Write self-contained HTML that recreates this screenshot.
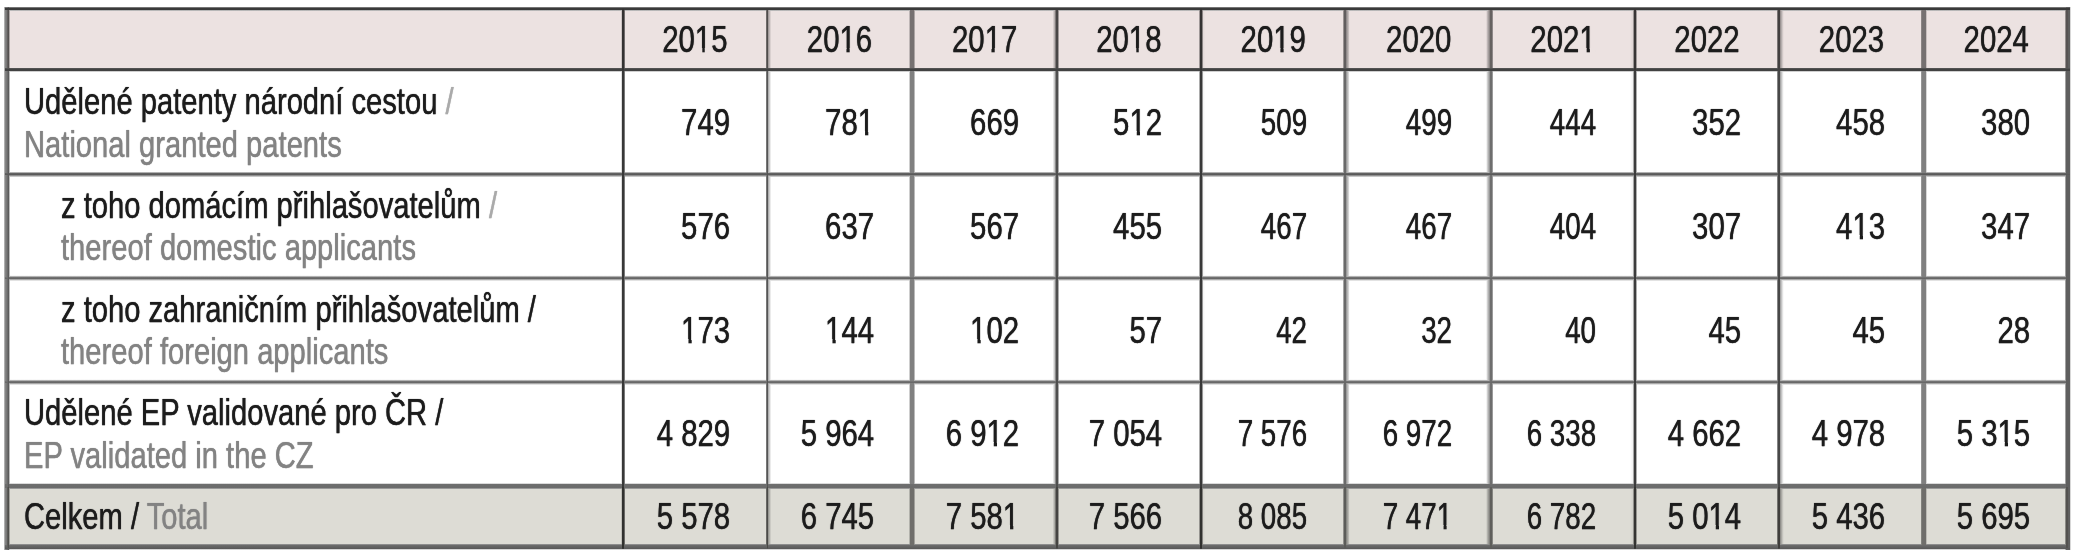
<!DOCTYPE html>
<html><head><meta charset="utf-8"><style>
html,body{margin:0;padding:0;background:#fff;width:2078px;height:556px;overflow:hidden}
body{position:relative;font-family:"Liberation Sans",sans-serif;font-size:36px;line-height:36px}
body>div{position:absolute;white-space:nowrap}
.ln{mix-blend-mode:multiply}
.lh{mix-blend-mode:darken}
.t{-webkit-text-stroke:0.25px currentColor;text-shadow:0 0 1px currentColor;--bg:#fff}
b.o{font-weight:normal;position:relative}
b.o::before,b.o::after{content:'';position:absolute;top:0.81em;height:0.17em;background:var(--bg)}
b.o::before{left:0.0em;width:0.242em}
b.o::after{left:0.348em;width:0.212em}
</style></head><body>
<div style="left:6.9px;top:8.9px;width:2061.6px;height:61.199999999999996px;background:#ece2e1"></div>
<div style="left:6.9px;top:486.5px;width:2061.6px;height:61.0px;background:#dddcd5"></div>
<div class="ln" style="left:3px;top:7px;width:7px;height:543px;background:linear-gradient(90deg, rgb(255,255,255) 0.8px, rgb(140,140,140) 1.8px, rgb(115,115,115) 4.0px, rgb(85,85,85) 5.9px, rgb(255,255,255) 6.9px)"></div>
<div class="ln" style="left:621px;top:8px;width:5px;height:541px;background:linear-gradient(90deg, rgb(255,255,255) 0.3px, rgb(56,56,56) 1.5px, rgb(56,56,56) 3.1px, rgb(255,255,255) 4.3px)"></div>
<div class="ln" style="left:765px;top:8px;width:7px;height:541px;background:linear-gradient(90deg, rgb(255,255,255) 0.7px, rgb(85,85,85) 1.7px, rgb(85,85,85) 2.97px, rgb(170,170,170) 3.3px, rgb(230,230,230) 5.3px, rgb(255,255,255) 6.3px)"></div>
<div class="ln" style="left:909px;top:8px;width:7px;height:541px;background:linear-gradient(90deg, rgb(255,255,255) 0.0px, rgb(128,128,128) 1.3px, rgb(128,128,128) 4.9px, rgb(255,255,255) 6.2px)"></div>
<div class="ln" style="left:1052px;top:8px;width:8px;height:541px;background:linear-gradient(90deg, rgb(255,255,255) 0.6px, rgb(205,205,205) 2.4px, rgb(90,90,90) 4.25px, rgb(79,79,79) 4.3px, rgb(79,79,79) 5.8px, rgb(255,255,255) 7.1px)"></div>
<div class="ln" style="left:1199px;top:8px;width:7px;height:541px;background:linear-gradient(90deg, rgb(255,255,255) 0.0px, rgb(56,56,56) 1.2px, rgb(56,56,56) 2.9px, rgb(245,245,245) 4.1px, rgb(255,255,255) 6.3px)"></div>
<div class="ln" style="left:1342px;top:8px;width:8px;height:541px;background:linear-gradient(90deg, rgb(255,255,255) 0.6px, rgb(106,106,106) 2.1px, rgb(106,106,106) 3.86px, rgb(150,150,150) 4.3px, rgb(220,220,220) 6.8px, rgb(255,255,255) 7.6px)"></div>
<div class="ln" style="left:1486px;top:8px;width:8px;height:541px;background:linear-gradient(90deg, rgb(255,255,255) 0.2px, rgb(220,220,220) 1.0px, rgb(150,150,150) 3.5px, rgb(110,110,110) 4.07px, rgb(110,110,110) 6.1px, rgb(255,255,255) 7.4px)"></div>
<div class="ln" style="left:1630px;top:8px;width:7px;height:541px;background:linear-gradient(90deg, rgb(255,255,255) 0.1px, rgb(240,240,240) 3.1px, rgb(60,60,60) 4.1px, rgb(60,60,60) 5.8px, rgb(255,255,255) 7.0px)"></div>
<div class="ln" style="left:1776px;top:8px;width:8px;height:541px;background:linear-gradient(90deg, rgb(255,255,255) 0.5px, rgb(72,72,72) 2.0px, rgb(72,72,72) 3.6px, rgb(160,160,160) 4.3px, rgb(235,235,235) 6.8px, rgb(255,255,255) 7.8px)"></div>
<div class="ln" style="left:1920px;top:8px;width:7px;height:541px;background:linear-gradient(90deg, rgb(255,255,255) 0.5px, rgb(128,128,128) 1.7px, rgb(128,128,128) 5.6px, rgb(255,255,255) 6.9px)"></div>
<div class="ln" style="left:2064px;top:7px;width:7px;height:543px;background:linear-gradient(90deg, rgb(255,255,255) 0.8px, rgb(95,95,95) 2.0px, rgb(95,95,95) 5.6px, rgb(255,255,255) 6.8px)"></div>
<div class="lh" style="left:5px;top:6px;width:2065px;height:5px;background:linear-gradient(180deg, rgb(255,255,255) 0.8px, rgb(58,58,58) 1.8px, rgb(58,58,58) 3.8px, rgb(255,255,255) 4.9px)"></div>
<div class="lh" style="left:5px;top:67px;width:2065px;height:5px;background:linear-gradient(180deg, rgb(255,255,255) 0.4px, rgb(66,66,66) 1.6px, rgb(66,66,66) 3.6px, rgb(255,255,255) 4.8px)"></div>
<div class="lh" style="left:5px;top:171px;width:2065px;height:7px;background:linear-gradient(180deg, rgb(255,255,255) 0.6px, rgb(100,100,100) 2.4px, rgb(90,90,90) 3.0px, rgb(90,90,90) 3.62px, rgb(150,150,150) 4.6px, rgb(255,255,255) 6.5px)"></div>
<div class="lh" style="left:5px;top:275px;width:2065px;height:6px;background:linear-gradient(180deg, rgb(255,255,255) 0.4px, rgb(130,130,130) 2.2px, rgb(95,95,95) 2.81px, rgb(95,95,95) 3.41px, rgb(140,140,140) 4.0px, rgb(255,255,255) 6.0px)"></div>
<div class="lh" style="left:5px;top:379px;width:2065px;height:6px;background:linear-gradient(180deg, rgb(255,255,255) 0.4px, rgb(130,130,130) 2.2px, rgb(98,98,98) 2.81px, rgb(98,98,98) 3.41px, rgb(140,140,140) 4.0px, rgb(255,255,255) 6.0px)"></div>
<div class="lh" style="left:5px;top:483px;width:2065px;height:7px;background:linear-gradient(180deg, rgb(255,255,255) 0.2px, rgb(110,110,110) 1.4px, rgb(107,107,107) 5.0px, rgb(255,255,255) 6.6px)"></div>
<div class="lh" style="left:5px;top:543px;width:2065px;height:7px;background:linear-gradient(180deg, rgb(255,255,255) 0.4px, rgb(110,110,110) 1.8px, rgb(90,90,90) 5.6px, rgb(255,255,255) 6.8px)"></div>
<div class="t" style="left:623.3px;width:143.70000000000005px;top:22.230000000000004px;text-align:center;color:#1c1c1c;transform:scaleX(0.815);transform-origin:50% 0;--bg:#ece2e1">20<b class="o">1</b>5</div>
<div class="t" style="left:767px;width:145px;top:22.230000000000004px;text-align:center;color:#1c1c1c;transform:scaleX(0.815);transform-origin:50% 0;--bg:#ece2e1">20<b class="o">1</b>6</div>
<div class="t" style="left:912px;width:145.29999999999995px;top:22.230000000000004px;text-align:center;color:#1c1c1c;transform:scaleX(0.815);transform-origin:50% 0;--bg:#ece2e1">20<b class="o">1</b>7</div>
<div class="t" style="left:1057.3px;width:143.70000000000005px;top:22.230000000000004px;text-align:center;color:#1c1c1c;transform:scaleX(0.815);transform-origin:50% 0;--bg:#ece2e1">20<b class="o">1</b>8</div>
<div class="t" style="left:1201px;width:144.5px;top:22.230000000000004px;text-align:center;color:#1c1c1c;transform:scaleX(0.815);transform-origin:50% 0;--bg:#ece2e1">20<b class="o">1</b>9</div>
<div class="t" style="left:1345.5px;width:145.5px;top:22.230000000000004px;text-align:center;color:#1c1c1c;transform:scaleX(0.815);transform-origin:50% 0;--bg:#ece2e1">2020</div>
<div class="t" style="left:1491px;width:144px;top:22.230000000000004px;text-align:center;color:#1c1c1c;transform:scaleX(0.815);transform-origin:50% 0;--bg:#ece2e1">202<b class="o">1</b></div>
<div class="t" style="left:1635px;width:144px;top:22.230000000000004px;text-align:center;color:#1c1c1c;transform:scaleX(0.815);transform-origin:50% 0;--bg:#ece2e1">2022</div>
<div class="t" style="left:1779px;width:145px;top:22.230000000000004px;text-align:center;color:#1c1c1c;transform:scaleX(0.815);transform-origin:50% 0;--bg:#ece2e1">2023</div>
<div class="t" style="left:1924px;width:144.5px;top:22.230000000000004px;text-align:center;color:#1c1c1c;transform:scaleX(0.815);transform-origin:50% 0;--bg:#ece2e1">2024</div>
<div class="t" style="left:24.0px;top:84.03px;color:#1c1c1c;transform:scaleX(0.81);transform-origin:0 0">Udělené patenty národní cestou <span style="color:#aaaaaa">/</span></div>
<div class="t" style="left:24.0px;top:126.53px;color:#838383;transform:scaleX(0.81);transform-origin:0 0">National granted patents</div>
<div class="t" style="right:1348.0px;top:105.13px;color:#1c1c1c;transform:scaleX(0.815);transform-origin:100% 0">749</div>
<div class="t" style="right:1204.1999999999998px;top:105.13px;color:#1c1c1c;transform:scaleX(0.815);transform-origin:100% 0">78<b class="o">1</b></div>
<div class="t" style="right:1058.8px;top:105.13px;color:#1c1c1c;transform:scaleX(0.815);transform-origin:100% 0">669</div>
<div class="t" style="right:915.5999999999999px;top:105.13px;color:#1c1c1c;transform:scaleX(0.815);transform-origin:100% 0">5<b class="o">1</b>2</div>
<div class="t" style="right:770.8999999999999px;top:105.13px;color:#1c1c1c;transform:scaleX(0.7701749999999999);transform-origin:100% 0">509</div>
<div class="t" style="right:626.3999999999999px;top:105.13px;color:#1c1c1c;transform:scaleX(0.7701749999999999);transform-origin:100% 0">499</div>
<div class="t" style="right:482.0px;top:105.13px;color:#1c1c1c;transform:scaleX(0.7701749999999999);transform-origin:100% 0">444</div>
<div class="t" style="right:337.0px;top:105.13px;color:#1c1c1c;transform:scaleX(0.815);transform-origin:100% 0">352</div>
<div class="t" style="right:193.20000000000005px;top:105.13px;color:#1c1c1c;transform:scaleX(0.815);transform-origin:100% 0">458</div>
<div class="t" style="right:48.200000000000045px;top:105.13px;color:#1c1c1c;transform:scaleX(0.815);transform-origin:100% 0">380</div>
<div class="t" style="left:60.8px;top:187.78px;color:#1c1c1c;transform:scaleX(0.81);transform-origin:0 0">z toho domácím přihlašovatelům <span style="color:#aaaaaa">/</span></div>
<div class="t" style="left:60.8px;top:230.28px;color:#838383;transform:scaleX(0.81);transform-origin:0 0">thereof domestic applicants</div>
<div class="t" style="right:1348.0px;top:208.83px;color:#1c1c1c;transform:scaleX(0.815);transform-origin:100% 0">576</div>
<div class="t" style="right:1204.1999999999998px;top:208.83px;color:#1c1c1c;transform:scaleX(0.815);transform-origin:100% 0">637</div>
<div class="t" style="right:1058.8px;top:208.83px;color:#1c1c1c;transform:scaleX(0.815);transform-origin:100% 0">567</div>
<div class="t" style="right:915.5999999999999px;top:208.83px;color:#1c1c1c;transform:scaleX(0.815);transform-origin:100% 0">455</div>
<div class="t" style="right:770.8999999999999px;top:208.83px;color:#1c1c1c;transform:scaleX(0.7701749999999999);transform-origin:100% 0">467</div>
<div class="t" style="right:626.3999999999999px;top:208.83px;color:#1c1c1c;transform:scaleX(0.7701749999999999);transform-origin:100% 0">467</div>
<div class="t" style="right:482.0px;top:208.83px;color:#1c1c1c;transform:scaleX(0.7701749999999999);transform-origin:100% 0">404</div>
<div class="t" style="right:337.0px;top:208.83px;color:#1c1c1c;transform:scaleX(0.815);transform-origin:100% 0">307</div>
<div class="t" style="right:193.20000000000005px;top:208.83px;color:#1c1c1c;transform:scaleX(0.815);transform-origin:100% 0">4<b class="o">1</b>3</div>
<div class="t" style="right:48.200000000000045px;top:208.83px;color:#1c1c1c;transform:scaleX(0.815);transform-origin:100% 0">347</div>
<div class="t" style="left:60.8px;top:291.53px;color:#1c1c1c;transform:scaleX(0.81);transform-origin:0 0">z toho zahraničním přihlašovatelům /</div>
<div class="t" style="left:60.8px;top:334.03px;color:#838383;transform:scaleX(0.81);transform-origin:0 0">thereof foreign applicants</div>
<div class="t" style="right:1348.0px;top:312.53px;color:#1c1c1c;transform:scaleX(0.815);transform-origin:100% 0"><b class="o">1</b>73</div>
<div class="t" style="right:1204.1999999999998px;top:312.53px;color:#1c1c1c;transform:scaleX(0.815);transform-origin:100% 0"><b class="o">1</b>44</div>
<div class="t" style="right:1058.8px;top:312.53px;color:#1c1c1c;transform:scaleX(0.815);transform-origin:100% 0"><b class="o">1</b>02</div>
<div class="t" style="right:915.5999999999999px;top:312.53px;color:#1c1c1c;transform:scaleX(0.815);transform-origin:100% 0">57</div>
<div class="t" style="right:770.8999999999999px;top:312.53px;color:#1c1c1c;transform:scaleX(0.7701749999999999);transform-origin:100% 0">42</div>
<div class="t" style="right:626.3999999999999px;top:312.53px;color:#1c1c1c;transform:scaleX(0.7701749999999999);transform-origin:100% 0">32</div>
<div class="t" style="right:482.0px;top:312.53px;color:#1c1c1c;transform:scaleX(0.7701749999999999);transform-origin:100% 0">40</div>
<div class="t" style="right:337.0px;top:312.53px;color:#1c1c1c;transform:scaleX(0.815);transform-origin:100% 0">45</div>
<div class="t" style="right:193.20000000000005px;top:312.53px;color:#1c1c1c;transform:scaleX(0.815);transform-origin:100% 0">45</div>
<div class="t" style="right:48.200000000000045px;top:312.53px;color:#1c1c1c;transform:scaleX(0.815);transform-origin:100% 0">28</div>
<div class="t" style="left:24.0px;top:395.28px;color:#1c1c1c;transform:scaleX(0.81);transform-origin:0 0">Udělené EP validované pro ČR /</div>
<div class="t" style="left:24.0px;top:437.78px;color:#838383;transform:scaleX(0.81);transform-origin:0 0">EP validated in the CZ</div>
<div class="t" style="right:1348.0px;top:416.23px;color:#1c1c1c;transform:scaleX(0.815);transform-origin:100% 0">4 829</div>
<div class="t" style="right:1204.1999999999998px;top:416.23px;color:#1c1c1c;transform:scaleX(0.815);transform-origin:100% 0">5 964</div>
<div class="t" style="right:1058.8px;top:416.23px;color:#1c1c1c;transform:scaleX(0.815);transform-origin:100% 0">6 9<b class="o">1</b>2</div>
<div class="t" style="right:915.5999999999999px;top:416.23px;color:#1c1c1c;transform:scaleX(0.815);transform-origin:100% 0">7 054</div>
<div class="t" style="right:770.8999999999999px;top:416.23px;color:#1c1c1c;transform:scaleX(0.7701749999999999);transform-origin:100% 0">7 576</div>
<div class="t" style="right:626.3999999999999px;top:416.23px;color:#1c1c1c;transform:scaleX(0.7701749999999999);transform-origin:100% 0">6 972</div>
<div class="t" style="right:482.0px;top:416.23px;color:#1c1c1c;transform:scaleX(0.7701749999999999);transform-origin:100% 0">6 338</div>
<div class="t" style="right:337.0px;top:416.23px;color:#1c1c1c;transform:scaleX(0.815);transform-origin:100% 0">4 662</div>
<div class="t" style="right:193.20000000000005px;top:416.23px;color:#1c1c1c;transform:scaleX(0.815);transform-origin:100% 0">4 978</div>
<div class="t" style="right:48.200000000000045px;top:416.23px;color:#1c1c1c;transform:scaleX(0.815);transform-origin:100% 0">5 3<b class="o">1</b>5</div>
<div class="t" style="left:24.0px;top:498.8299999999999px;color:#1c1c1c;transform:scaleX(0.81);transform-origin:0 0">Celkem / <span style="color:#838383">Total</span></div>
<div class="t" style="right:1348.0px;top:498.8299999999999px;color:#1c1c1c;transform:scaleX(0.815);transform-origin:100% 0;--bg:#dddcd5">5 578</div>
<div class="t" style="right:1204.1999999999998px;top:498.8299999999999px;color:#1c1c1c;transform:scaleX(0.815);transform-origin:100% 0;--bg:#dddcd5">6 745</div>
<div class="t" style="right:1058.8px;top:498.8299999999999px;color:#1c1c1c;transform:scaleX(0.815);transform-origin:100% 0;--bg:#dddcd5">7 58<b class="o">1</b></div>
<div class="t" style="right:915.5999999999999px;top:498.8299999999999px;color:#1c1c1c;transform:scaleX(0.815);transform-origin:100% 0;--bg:#dddcd5">7 566</div>
<div class="t" style="right:770.8999999999999px;top:498.8299999999999px;color:#1c1c1c;transform:scaleX(0.7701749999999999);transform-origin:100% 0;--bg:#dddcd5">8 085</div>
<div class="t" style="right:626.3999999999999px;top:498.8299999999999px;color:#1c1c1c;transform:scaleX(0.7701749999999999);transform-origin:100% 0;--bg:#dddcd5">7 47<b class="o">1</b></div>
<div class="t" style="right:482.0px;top:498.8299999999999px;color:#1c1c1c;transform:scaleX(0.7701749999999999);transform-origin:100% 0;--bg:#dddcd5">6 782</div>
<div class="t" style="right:337.0px;top:498.8299999999999px;color:#1c1c1c;transform:scaleX(0.815);transform-origin:100% 0;--bg:#dddcd5">5 0<b class="o">1</b>4</div>
<div class="t" style="right:193.20000000000005px;top:498.8299999999999px;color:#1c1c1c;transform:scaleX(0.815);transform-origin:100% 0;--bg:#dddcd5">5 436</div>
<div class="t" style="right:48.200000000000045px;top:498.8299999999999px;color:#1c1c1c;transform:scaleX(0.815);transform-origin:100% 0;--bg:#dddcd5">5 695</div>
</body></html>
